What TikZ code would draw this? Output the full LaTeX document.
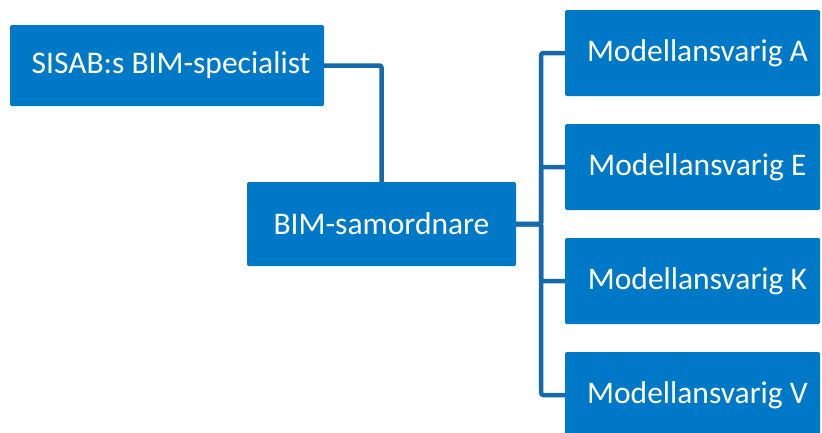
\documentclass[tikz,border=0pt]{standalone}
\usepackage{fontspec}
\setmainfont{Carlito}
\definecolor{boxblue}{RGB}{0,120,200}
\definecolor{linkblue}{RGB}{22,105,170}
\begin{document}
\begin{tikzpicture}[x=1pt,y=-1pt,
  rolebox/.style={draw=none,fill=boxblue,text=white,rounded corners=1.5pt,
    minimum height=85pt,inner sep=0pt,font=\fontsize{31.5}{34}\selectfont},
  link/.style={draw=linkblue,line width=4.5pt,line join=round,rounded corners=2pt}]
\useasboundingbox (0,0) rectangle (822,432);
\clip (0,0) rectangle (822,432);
% top role and coordinator
\node[rolebox,minimum width=314pt,minimum height=81pt] (spec) at (167,65.5) {\hspace*{8pt}SISAB:s BIM-specialist};
\node[rolebox,minimum width=269pt,minimum height=84pt] (coord) at (381.5,224) {BIM-samordnare};
% model owners
\node[rolebox,minimum width=255pt,minimum height=86pt] (ma) at (692.5,53) {\hspace*{10pt}Modellansvarig A};
\node[rolebox,minimum width=255pt,minimum height=86pt] (me) at (692.5,167) {\hspace*{10pt}Modellansvarig E};
\node[rolebox,minimum width=255pt,minimum height=86pt] (mk) at (692.5,281) {\hspace*{10pt}Modellansvarig K};
\node[rolebox,minimum width=255pt,minimum height=86pt] (mv) at (692.5,395) {\hspace*{10pt}Modellansvarig V};
% connectors
\begin{scope}[on background layer/.try]
\draw[link] (spec.east) -| (coord.north);
\coordinate (bus) at ([xshift=25pt]coord.east);
\foreach \m in {ma,me,mk,mv}
  \draw[link] (coord.east) -- (bus) |- (\m.west);
\end{scope}
\end{tikzpicture}
\end{document}
